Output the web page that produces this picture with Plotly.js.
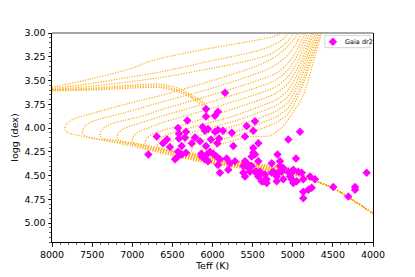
<!DOCTYPE html>
<html><head><meta charset="utf-8">
<script src="https://cdn.plot.ly/plotly-3.0.1.min.js"></script>
<style>html,body{margin:0;padding:0;background:#fff}</style>
</head><body><div id="chart" style="width:415px;height:277px"></div>
<script>
// Shared cool end of the main sequence (Teff, logg)
const lowerMS = [[3900,4.97],[4000,4.90],[4250,4.76],[4500,4.63],[4750,4.55]];

// Isochrone tracks (Teff K, logg dex)
const isoK0 = [[5000,4.50],[5500,4.44],[6000,4.38],[6500,4.29],[7000,4.19],[7400,4.12],[7650,4.08],[7800,4.05],[7840,4.02],[7820,3.96],[7740,3.91],[7640,3.88],[7300,3.80],[6900,3.71],[6650,3.66],[6000,3.50],[5400,3.33],[5200,3.24],[5050,3.13],[4930,3.0],[4880,2.9]];
const isoK1 = [[5000,4.48],[5500,4.42],[6000,4.36],[6500,4.27],[7000,4.17],[7250,4.14],[7420,4.12],[7580,4.09],[7620,4.05],[7600,3.99],[7520,3.94],[7420,3.91],[7100,3.84],[6650,3.73],[6000,3.58],[5400,3.41],[5200,3.33],[5050,3.22],[4950,3.10],[4890,3.0],[4850,2.9]];
const isoK2 = [[5000,4.46],[5500,4.40],[6000,4.34],[6500,4.25],[6900,4.17],[7200,4.13],[7360,4.11],[7400,4.08],[7380,4.02],[7300,3.97],[7200,3.94],[6900,3.88],[6650,3.81],[6000,3.65],[5400,3.49],[5200,3.42],[5050,3.31],[4930,3.15],[4850,3.0],[4810,2.9]];
const isoK3 = [[5000,4.49],[5500,4.43],[6000,4.37],[6500,4.28],[6800,4.22],[7000,4.17],[7150,4.14],[7190,4.11],[7170,4.05],[7090,4.00],[6990,3.97],[6650,3.88],[6000,3.72],[5400,3.56],[5200,3.49],[5050,3.38],[4920,3.20],[4820,3.0],[4780,2.9]];
const isoK4 = [[5000,4.45],[5500,4.39],[6000,4.33],[6500,4.24],[6800,4.19],[6960,4.17],[7000,4.14],[6980,4.08],[6900,4.03],[6800,4.00],[6650,3.95],[6000,3.79],[5400,3.63],[5200,3.56],[5050,3.45],[4910,3.25],[4790,3.0],[4750,2.9]];
const isoK5 = [[5000,4.47],[5500,4.41],[6000,4.35],[6400,4.28],[6650,4.23],[6800,4.20],[6840,4.17],[6820,4.11],[6740,4.06],[6640,4.03],[6300,3.95],[6000,3.87],[5400,3.70],[5200,3.63],[5050,3.52],[4900,3.30],[4760,3.0],[4720,2.9]];
const isoK6 = [[5000,4.44],[5500,4.38],[6000,4.32],[6300,4.27],[6500,4.24],[6650,4.22],[6690,4.19],[6670,4.13],[6590,4.08],[6490,4.05],[6200,3.98],[5800,3.89],[5400,3.77],[5200,3.70],[5050,3.59],[4900,3.36],[4740,3.0],[4700,2.9]];
const isoK7 = [[5000,4.48],[5500,4.42],[6000,4.36],[6200,4.32],[6350,4.28],[6500,4.24],[6540,4.21],[6520,4.15],[6440,4.10],[6340,4.07],[6050,4.00],[5700,3.92],[5400,3.83],[5200,3.76],[5050,3.66],[4900,3.42],[4715,3.0],[4680,2.9]];
const isoK8 = [[5000,4.43],[5500,4.37],[5900,4.32],[6100,4.29],[6250,4.27],[6360,4.26],[6400,4.23],[6380,4.17],[6300,4.12],[6200,4.09],[5950,4.03],[5650,3.96],[5400,3.89],[5200,3.82],[5050,3.72],[4900,3.48],[4695,3.0],[4660,2.9]];
const isoK9 = [[5000,4.47],[5500,4.41],[5800,4.37],[6000,4.33],[6120,4.31],[6220,4.28],[6260,4.25],[6240,4.19],[6160,4.14],[6060,4.11],[5850,4.06],[5600,4.01],[5400,3.95],[5200,3.88],[5050,3.78],[4900,3.55],[4675,3.0],[4640,2.9]];
const isoK10 = [[5000,4.45],[5400,4.40],[5700,4.36],[5900,4.33],[6030,4.31],[6100,4.30],[6130,4.27],[6110,4.21],[6030,4.16],[5930,4.13],[5700,4.08],[5400,4.01],[5200,3.94],[5050,3.84],[4900,3.60],[4655,3.0],[4620,2.9]];
const isoK11 = [[5000,4.49],[5300,4.46],[5600,4.42],[5800,4.39],[5920,4.36],[5980,4.33],[6010,4.29],[5990,4.23],[5910,4.18],[5810,4.15],[5550,4.09],[5284,4.08],[5120,3.98],[5000,3.84],[4870,3.66],[4750,3.32],[4640,3.0],[4610,2.9]];

// Younger tracks entering from the hot edge
const isoY0 = [[8100,3.59],[7500,3.48],[7000,3.37],[6750,3.29],[6150,3.18],[5550,3.09],[5250,3.04],[5150,3.0],[5100,2.9]];
const isoY1 = [[8100,3.595],[7500,3.53],[7000,3.46],[6650,3.41],[6000,3.29],[5500,3.20],[5250,3.13],[5100,3.05],[5050,2.98],[5020,2.9]];
const isoY2 = [[8100,3.60],[7500,3.56],[7000,3.51],[6650,3.47],[6000,3.37],[5500,3.28],[5250,3.21],[5080,3.10],[4990,3.0],[4960,2.9]];
const isoY3 = [[8100,3.60],[7500,3.58],[7000,3.55],[6650,3.54],[6400,3.59],[6250,3.66],[6120,3.72],[6070,3.81],[6050,3.92]];
const isoY4 = [[8100,3.605],[7500,3.59],[7000,3.565],[6650,3.56],[6400,3.61],[6250,3.675],[6140,3.73],[6090,3.80]];
const isoY5 = [[8100,3.61],[7500,3.60],[7000,3.58],[6650,3.575],[6400,3.625],[6250,3.69],[6160,3.745]];

// Gaia DR2 stars
const gaiaTeff = [5844,6081,5932,5969,6081,6314,5471,5574,5492,6122,6094,6056,5932,5869,5969,5760,6430,6418,6330,6695,6617,6567,6530,6418,6343,5595,5429,6218,6156,6019,5919,5741,6384,6081,5492,6259,5940,5055,4910,6800,6430,6384,6330,6430,6467,6140,6072,6094,6056,6031,5990,5949,5932,5907,5907,5823,5782,5803,5720,5595,5554,5574,5616,5533,5471,5429,5492,5512,5512,5471,5408,5533,5346,5325,5387,5367,5325,5262,5190,5159,5242,5180,5262,5616,5595,5450,5429,4960,5159,5118,5138,5055,5013,4993,4931,4888,5200,5200,5118,5034,5013,4993,4951,4869,4785,4723,4869,4869,4806,4764,4495,4224,4224,4308,4079,6135];
const gaiaLogg = [3.63,3.80,3.83,3.87,3.88,3.92,3.93,3.98,4.03,3.99,4.03,4.01,4.02,4.03,4.04,4.05,4.00,4.06,4.04,4.09,4.16,4.12,4.20,4.11,4.10,4.09,4.16,4.10,4.14,4.12,4.11,4.19,4.19,4.19,4.21,4.16,4.16,4.12,4.04,4.28,4.25,4.28,4.26,4.30,4.33,4.27,4.28,4.33,4.35,4.25,4.27,4.30,4.39,4.47,4.33,4.32,4.37,4.44,4.35,4.35,4.42,4.37,4.40,4.40,4.28,4.35,4.26,4.30,4.40,4.46,4.46,4.46,4.49,4.54,4.56,4.56,4.58,4.37,4.28,4.35,4.46,4.47,4.47,4.47,4.51,4.46,4.51,4.32,4.40,4.42,4.46,4.46,4.47,4.44,4.46,4.47,4.51,4.56,4.54,4.51,4.54,4.58,4.56,4.54,4.51,4.54,4.67,4.74,4.65,4.63,4.62,4.62,4.65,4.72,4.47,4.30];

const xTicks = [8000,7500,7000,6500,6000,5500,5000,4500,4000];
const yTicks = [3.00,3.25,3.50,3.75,4.00,4.25,4.50,4.75,5.00];
const legendLabel = 'Gaia dr2';

const msTracks = [isoK0,isoK1,isoK2,isoK3,isoK4,isoK5,isoK6,isoK7,isoK8,isoK9,isoK10,isoK11];
const hotTracks = [isoY0,isoY1,isoY2,isoY3,isoY4,isoY5];

const lineStyle = {color:'rgba(255,165,0,0.95)', width:1.2, dash:'1.2px,1.4px', shape:'spline', smoothing:0.8};
const traces = [];
msTracks.forEach(t => {
  const pts = lowerMS.concat(t);
  traces.push({x:pts.map(p=>p[0]), y:pts.map(p=>p[1]), mode:'lines', line:lineStyle, showlegend:false, hoverinfo:'skip'});
});
hotTracks.forEach(t => {
  traces.push({x:t.map(p=>p[0]), y:t.map(p=>p[1]), mode:'lines', line:lineStyle, showlegend:false, hoverinfo:'skip'});
});
const starMarker = {symbol:'diamond', size:6.5, color:'#ff00ff', line:{width:0}};
traces.push({x:gaiaTeff, y:gaiaLogg, mode:'markers', name:legendLabel, marker:starMarker, showlegend:false});
// legend glyph on an invisible 0..1 overlay axis
traces.push({x:[0.875], y:[0.958], xaxis:'x2', yaxis:'y2', mode:'markers', marker:starMarker, showlegend:false, hoverinfo:'skip'});

const font = {family:'DejaVu Sans, sans-serif', size:9.5, color:'#000'};
const layout = {
  width:415, height:277,
  margin:{l:52, r:42, t:33, b:35},
  paper_bgcolor:'#fff', plot_bgcolor:'#fff',
  font:font, showlegend:false,
  xaxis:{range:[8000,4000], tickvals:xTicks, ticktext:xTicks.map(String),
    showgrid:false, zeroline:false, showline:true, linecolor:'#000', linewidth:1,
    ticks:'outside', ticklen:3.5, tickwidth:0.8, tickcolor:'#000',
    minor:{dtick:100, ticks:'outside', ticklen:2, tickwidth:0.6, tickcolor:'#000', showgrid:false},
    title:{text:'Teff (K)', font:font, standoff:3}, automargin:false},
  yaxis:{range:[5.2,3.0], tickvals:yTicks, ticktext:yTicks.map(v=>v.toFixed(2)),
    showgrid:false, zeroline:false, showline:true, mirror:true, linecolor:'#000', linewidth:1,
    ticks:'outside', ticklen:3.5, tickwidth:0.8, tickcolor:'#000',
    minor:{dtick:0.05, tick0:3.0, ticks:'outside', ticklen:2, tickwidth:0.6, tickcolor:'#000', showgrid:false},
    title:{text:'logg (dex)', font:font, standoff:4}, automargin:false},
  xaxis2:{overlaying:'x', range:[0,1], visible:false, fixedrange:true},
  yaxis2:{overlaying:'y', range:[0,1], visible:false, fixedrange:true},
  shapes:[
    {type:'line', xref:'paper', yref:'paper', x0:0, x1:1, y0:1, y1:1, line:{color:'#888', width:1.5}},
    {type:'rect', xref:'paper', yref:'paper', x0:0.85, x1:0.991, y0:0.93, y1:0.988, fillcolor:'#fff', line:{color:'#ccc', width:0.8}, layer:'below'}
  ],
  annotations:[{xref:'paper', yref:'paper', x:0.905, y:0.958, xanchor:'left', yanchor:'middle', showarrow:false,
    text:legendLabel, font:{family:'DejaVu Sans, sans-serif', size:6.5, color:'#000'}}]
};
Plotly.newPlot('chart', traces, layout, {staticPlot:true, displayModeBar:false});
</script>
</body></html>
